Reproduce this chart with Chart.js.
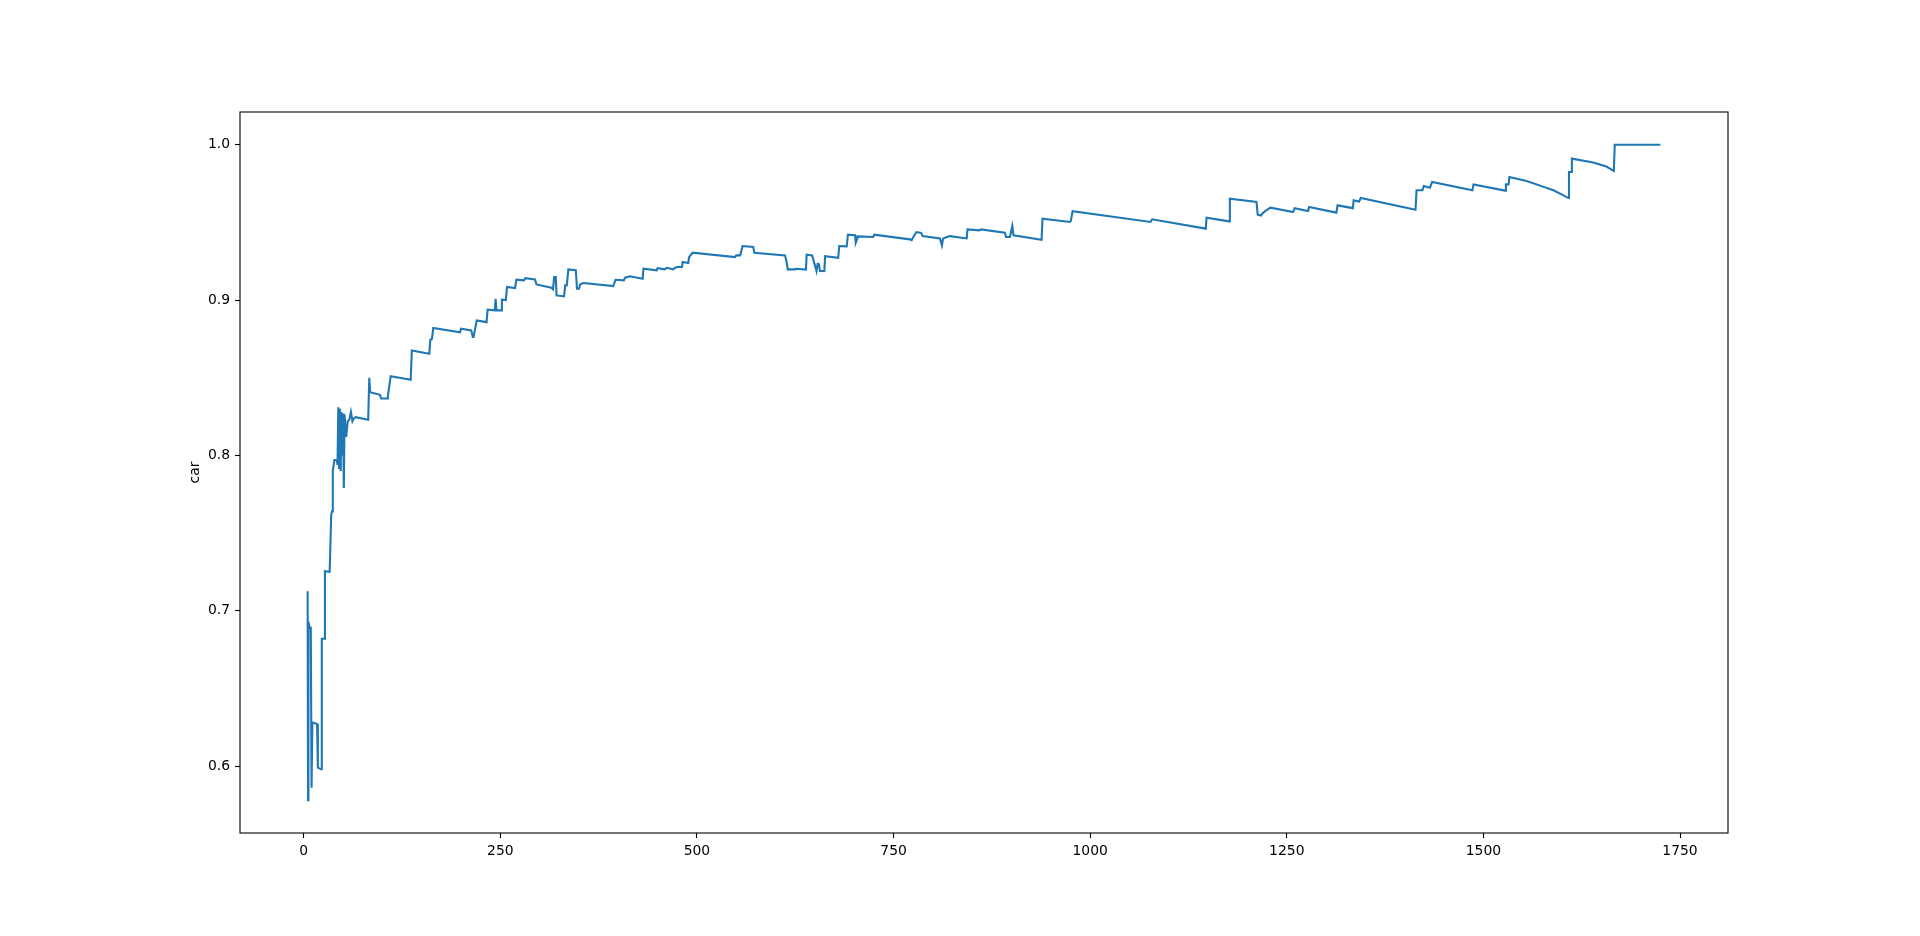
<!DOCTYPE html>
<html>
<head>
<meta charset="utf-8">
<title>car</title>
<script src="https://cdn.jsdelivr.net/npm/chart.js@4.4.1/dist/chart.umd.min.js"></script>
<style>
  body { margin: 0; background: #fff; }
  canvas { display: block; }
</style>
</head>
<body>
<canvas id="chart" width="1920" height="936"></canvas>
<script>
// values
const xValues = [
  5, 5.5, 6, 7, 8, 9, 10, 11, 17, 18, 22, 23, 26, 27, 33, 35, 36, 37, 39, 42,
  43, 44, 45, 46, 47, 48, 49, 50, 51, 52, 54, 56, 58, 60, 62, 64, 66, 82, 83.4, 84.5,
  97, 98.5, 106, 107, 110.6, 136, 137.5, 159.7, 161, 163, 164.8, 198.7, 200, 213, 215, 216, 220, 232.5, 233.8, 243,
  244, 245, 251, 252, 257, 258.5, 268.7, 270.5, 280, 282, 294, 296, 315, 317, 318.5, 320.5, 321.5, 331, 332.5, 334.5,
  336.5, 346, 347.5, 350, 351.5, 355.7, 393.6, 396.6, 407, 408.6, 414.8, 431, 432, 448.8, 450, 459, 461.5, 470, 472, 476,
  481, 481.8, 489, 490, 494.5, 548.3, 550, 555, 558, 571.6, 573, 612, 614, 615.5, 618, 625, 626, 638.6, 639.5, 646.5,
  652, 653.5, 655, 656.5, 657.7, 662, 663, 679.6, 681, 690.4, 692, 701, 702, 705, 724, 725.5, 770.8, 773, 774, 779,
  785, 787, 809, 811.5, 813, 817, 821.6, 843, 844, 859, 861, 891.6, 893, 898, 901, 902.5, 938.2, 939.4, 974.2, 975.5,
  977.6, 1076.8, 1078.8, 1147, 1148, 1176.8, 1177.6, 1211.5, 1213, 1217, 1218.7, 1222, 1229.3, 1258, 1260, 1277, 1278.4, 1313, 1314.6, 1334,
  1335, 1342, 1344, 1413.7, 1415, 1422.5, 1424.3, 1432, 1434.8, 1486, 1487.4, 1527.5, 1528.6, 1532, 1533, 1555, 1572, 1589, 1600, 1608,
  1608.8, 1611.5, 1612.5, 1639.5, 1656.5, 1665.8, 1667, 1725
];
const carValues = [
  0.7125, 0.578, 0.693, 0.690, 0.689, 0.689, 0.586, 0.628, 0.627, 0.599, 0.598, 0.682, 0.682, 0.7254, 0.725, 0.762, 0.764, 0.790, 0.797, 0.797,
  0.794, 0.831, 0.792, 0.830, 0.790, 0.828, 0.800, 0.827, 0.779, 0.826, 0.812, 0.822, 0.823, 0.828, 0.822, 0.824, 0.8246, 0.823, 0.850, 0.8407,
  0.839, 0.8366, 0.8366, 0.838, 0.851, 0.8487, 0.8676, 0.8655, 0.8745, 0.875, 0.882, 0.8792, 0.8816, 0.8805, 0.8762, 0.8762, 0.8869, 0.8858, 0.8938, 0.8934,
  0.9008, 0.8934, 0.8934, 0.9003, 0.9, 0.9084, 0.9077, 0.9131, 0.9127, 0.9141, 0.9133, 0.9101, 0.908, 0.907, 0.9148, 0.9148, 0.903, 0.9024, 0.9095, 0.9095,
  0.9198, 0.9192, 0.9073, 0.9073, 0.9101, 0.911, 0.909, 0.9131, 0.9127, 0.9144, 0.9153, 0.9137, 0.9202, 0.9192, 0.9206, 0.9198, 0.9208, 0.9198, 0.9208, 0.9213,
  0.9213, 0.9245, 0.9238, 0.9277, 0.9305, 0.9277, 0.9288, 0.9288, 0.9348, 0.9342, 0.9305, 0.9288, 0.9245, 0.9196, 0.9198, 0.9198, 0.9202, 0.9196, 0.9292, 0.9288,
  0.9187, 0.9234, 0.9232, 0.9187, 0.9187, 0.9187, 0.9282, 0.9272, 0.9348, 0.9346, 0.9421, 0.9417, 0.937, 0.941, 0.9406, 0.9421, 0.9391, 0.9385, 0.9397, 0.9438,
  0.9433, 0.9412, 0.9397, 0.9352, 0.9397, 0.9404, 0.9412, 0.9397, 0.9455, 0.9449, 0.9455, 0.9434, 0.9406, 0.9406, 0.9477, 0.9417, 0.9389, 0.9524, 0.9503, 0.951,
  0.9572, 0.9503, 0.952, 0.946, 0.9531, 0.9507, 0.9653, 0.9632, 0.955, 0.9545, 0.9556, 0.9571, 0.9595, 0.9567, 0.9592, 0.9573, 0.96, 0.9563, 0.961, 0.9592,
  0.9642, 0.9635, 0.9657, 0.9582, 0.9707, 0.9707, 0.9735, 0.9724, 0.976, 0.9707, 0.9745, 0.9705, 0.9745, 0.9745, 0.9793, 0.9767, 0.9737, 0.9707, 0.9679, 0.9657,
  0.9825, 0.9825, 0.9911, 0.9886, 0.986, 0.9831, 1.0, 1.0
];

const xTicks = [0, 250, 500, 750, 1000, 1250, 1500, 1750];
const yTicks = [0.6, 0.7, 0.8, 0.9, 1.0];
const yLabel = 'car';

Chart.defaults.font.family = 'DejaVu Sans';
Chart.defaults.font.size = 13.9;
Chart.defaults.color = '#000';

// frame around the plot area, like matplotlib spines
const frame = {
  id: 'frame',
  afterDraw(chart) {
    const { ctx, chartArea: a } = chart;
    ctx.save();
    ctx.strokeStyle = '#000';
    ctx.lineWidth = 1.1;
    ctx.strokeRect(a.left, a.top, a.right - a.left, a.bottom - a.top);
    ctx.restore();
  }
};

const points = xValues.map((x, i) => ({ x: x, y: carValues[i] }));

new Chart(document.getElementById('chart'), {
  type: 'line',
  data: {
    datasets: [{
      label: yLabel,
      data: points,
      borderColor: '#1f77b4',
      borderWidth: 2.1,
      pointRadius: 0,
      fill: false,
      tension: 0
    }]
  },
  options: {
    responsive: false,
    animation: false,
    devicePixelRatio: 1,
    layout: { padding: { top: 112, right: 192, left: 0, bottom: 0 } },
    plugins: {
      legend: { display: false },
      tooltip: { enabled: false }
    },
    scales: {
      x: {
        type: 'linear',
        min: -81,
        max: 1811,
        afterBuildTicks: s => { s.ticks = xTicks.map(v => ({ value: v })); },
        afterFit: s => { s.height = 103; },
        border: { display: false },
        grid: { drawOnChartArea: false, drawTicks: true, tickLength: 5, tickWidth: 1.1, tickColor: '#000' },
        ticks: { padding: 5, maxRotation: 0, callback: v => String(v) }
      },
      y: {
        type: 'linear',
        min: 0.5569,
        max: 1.0211,
        afterBuildTicks: s => { s.ticks = yTicks.map(v => ({ value: v })); },
        afterFit: s => { s.width = 240; },
        border: { display: false },
        grid: { drawOnChartArea: false, drawTicks: true, tickLength: 5, tickWidth: 1.1, tickColor: '#000' },
        ticks: { padding: 5, callback: v => v.toFixed(1) },
        title: { display: true, text: yLabel, padding: { top: 187, bottom: 0 } }
      }
    }
  },
  plugins: [frame]
});
</script>
</body>
</html>
